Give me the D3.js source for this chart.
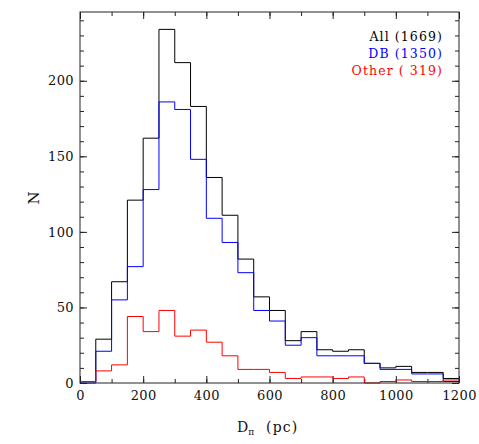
<!DOCTYPE html>
<html>
<head>
<meta charset="utf-8">
<script src="https://cdn.jsdelivr.net/npm/d3@7"></script>
<style>
  body { margin: 0; background: #fff; }
  svg text { white-space: pre; }
</style>
</head>
<body>
<svg width="479" height="444"></svg>
<script>
// histogram bins: 0..1200 pc in steps of 50
var binStarts = d3.range(0, 1200, 50);
var allCounts   = [1, 29, 67, 121, 162, 234, 212, 183, 136, 111, 82, 57, 48, 28, 34, 22, 21, 22, 13, 10, 11, 7, 7, 3];
var dbCounts    = [0, 21, 55, 77, 128, 186, 181, 148, 109, 93, 73, 48, 41, 25, 30, 18, 18, 18, 13, 9, 9, 6, 6, 1];
var otherCounts = [1, 8, 12, 44, 34, 48, 31, 35, 27, 18, 9, 9, 7, 3, 4, 4, 3, 4, 0, 1, 2, 1, 1, 2];
var legendLabels = ["All (1669)", "DB (1350)", "Other ( 319)"];
var colors = ["#000000", "#0000ff", "#ff0000"];
var xTicks = [0, 200, 400, 600, 800, 1000, 1200];
var yTicks = [0, 50, 100, 150, 200];

var svg = d3.select("svg"),
    margin = {top: 12, right: 20, bottom: 61, left: 80},
    width = +svg.attr("width"),
    height = +svg.attr("height"),
    chartWidth = width - (margin.left + margin.right),
    chartHeight = height - (margin.top + margin.bottom);

var x = d3.scaleLinear().domain([0, 1200]).range([0, chartWidth]);
var y = d3.scaleLinear().domain([0, 245.5]).range([chartHeight, 0]);

var g = svg.append("g")
    .attr("transform", "translate(" + margin.left + "," + margin.top + ")");

var tickFont = "'DejaVu Serif', serif";

// ticks pointing inward on all four sides
function addAxis(axisFn, values, size, pad, transform) {
  var a = g.append("g")
      .attr("transform", transform || null)
      .call(axisFn.tickValues(values).tickSizeInner(size).tickSizeOuter(0)
        .tickPadding(pad || 0)
        .tickFormat(pad ? d3.format("d") : ""));
  a.select(".domain").remove();
  a.selectAll("line").attr("stroke", "#222");
  a.selectAll("text")
      .style("font-family", tickFont)
      .style("font-size", "13px")
      .style("letter-spacing", "0.4px")
      .attr("fill", "#111");
  return a;
}

var xMinor = d3.range(0, 1201, 100), yMinor = d3.range(0, 246, 10);
addAxis(d3.axisBottom(x), xMinor, -4, 0, "translate(0," + chartHeight + ")");
addAxis(d3.axisBottom(x), xTicks, -7, 8, "translate(0," + chartHeight + ")");
addAxis(d3.axisTop(x), xMinor, -4, 0);
addAxis(d3.axisTop(x), xTicks, -7, 0);
addAxis(d3.axisLeft(y), yMinor, -4, 0);
addAxis(d3.axisLeft(y), yTicks, -7, 6);
addAxis(d3.axisRight(y), yMinor, -4, 0, "translate(" + chartWidth + ",0)");
addAxis(d3.axisRight(y), yTicks, -7, 0, "translate(" + chartWidth + ",0)");

// histogram outlines
var line = d3.line()
    .x(function(d) { return x(d[0]); })
    .y(function(d) { return y(d[1]); })
    .curve(d3.curveStepAfter);

[allCounts, dbCounts, otherCounts].forEach(function(counts, i) {
  var pts = binStarts.map(function(b, j) { return [b, counts[j]]; });
  pts.push([1200, counts[counts.length - 1]]);
  g.append("path")
      .datum(pts)
      .attr("fill", "none")
      .attr("stroke", colors[i])
      .attr("stroke-width", 1)
      .attr("d", line);
});

// frame
g.append("rect")
    .attr("x", 0).attr("y", 0)
    .attr("width", chartWidth).attr("height", chartHeight)
    .attr("fill", "none")
    .attr("stroke", "#222")
    .attr("stroke-width", 1);

// legend
g.selectAll(".legend")
    .data(legendLabels)
    .enter()
    .append("text")
    .attr("class", "legend")
    .attr("x", 363)
    .attr("y", function(d, i) { return 28.8 + i * 17.2; })
    .attr("text-anchor", "end")
    .attr("fill", function(d, i) { return colors[i]; })
    .style("font-family", tickFont)
    .style("font-size", "12.5px")
    .style("letter-spacing", "1.1px")
    .text(function(d) { return d; });

// axis titles
var xt = svg.append("text")
    .attr("x", 237)
    .attr("y", 432)
    .style("font-family", tickFont)
    .style("font-size", "14px")
    .attr("fill", "#111");
xt.append("tspan").text("D");
xt.append("tspan").attr("dy", 3).style("font-size", "9px").text("π");
xt.append("tspan").attr("x", 266).attr("y", 432).style("letter-spacing", "1.2px").text("(pc)");

svg.append("text")
    .attr("transform", "translate(39,198) rotate(-90)")
    .attr("text-anchor", "middle")
    .style("font-family", tickFont)
    .style("font-size", "15px")
    .attr("fill", "#111")
    .text("N");
</script>
</body>
</html>
